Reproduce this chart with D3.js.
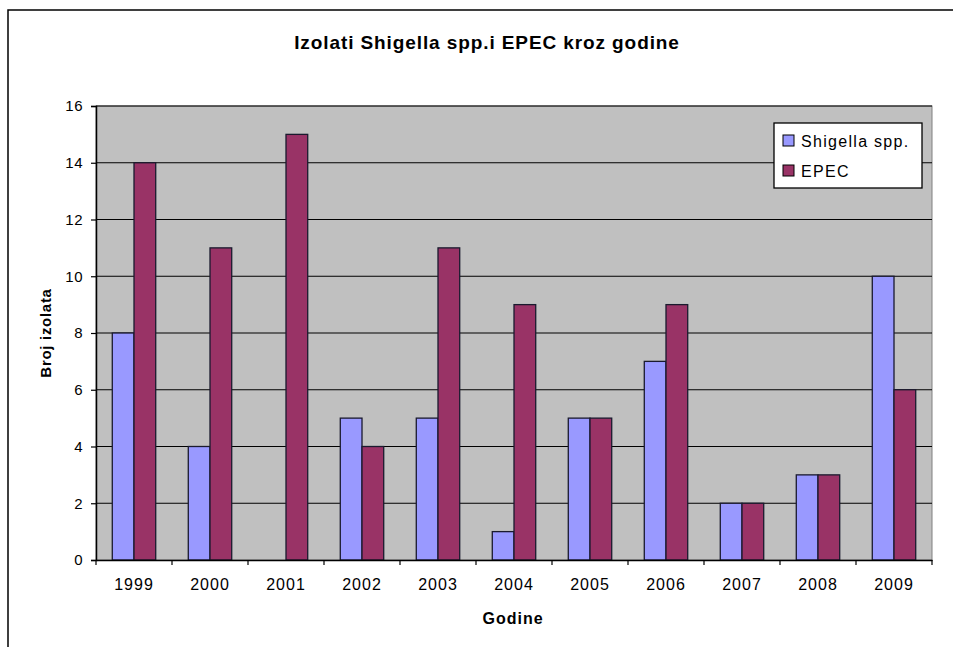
<!DOCTYPE html>
<html>
<head>
<meta charset="utf-8">
<script src="https://cdn.jsdelivr.net/npm/d3@7.9.0/dist/d3.min.js"></script>
<style>
  body { margin: 0; background: #fff; }
  svg { display: block; font-family: Arial, "Liberation Sans", sans-serif; }
</style>
</head>
<body>
<svg id="chart" width="953" height="647"></svg>
<script>
const years = ['1999', '2000', '2001', '2002', '2003', '2004', '2005', '2006', '2007', '2008', '2009'];
const shigella = [8, 4, 0, 5, 5, 1, 5, 7, 2, 3, 10];
const epec = [14, 11, 15, 4, 11, 9, 5, 9, 2, 3, 6];
const seriesNames = ['Shigella spp.', 'EPEC'];
const yTicks = [0, 2, 4, 6, 8, 10, 12, 14, 16];

const colors = ['#9999ff', '#993366'];
const svg = d3.select('#chart');

// outer chart border (runs off the right and bottom edge)
svg.append('rect')
    .attr('x', 8).attr('y', 10)
    .attr('width', 980).attr('height', 700)
    .attr('fill', 'none').attr('stroke', '#000').attr('stroke-width', 1.5);

const plot = { left: 96, top: 106, right: 932, bottom: 560 };

const x = d3.scaleBand().domain(years).range([plot.left, plot.right]).paddingInner(0.42857).paddingOuter(0.214285);
const xOuter = d3.scaleBand().domain(years).range([plot.left, plot.right]);
const xSub = d3.scaleBand().domain(seriesNames).range([0, x.bandwidth()]);
const y = d3.scaleLinear().domain([0, 16]).range([plot.bottom, plot.top]);

svg.append('rect')
    .attr('x', plot.left).attr('y', plot.top)
    .attr('width', plot.right - plot.left).attr('height', plot.bottom - plot.top)
    .attr('fill', '#c0c0c0').attr('stroke', '#808080').attr('stroke-width', 1);

// gridlines
svg.append('g').selectAll('line')
    .data(yTicks.filter(d => d > 0))
    .join('line')
    .attr('x1', plot.left).attr('x2', plot.right)
    .attr('y1', d => y(d)).attr('y2', d => y(d))
    .attr('stroke', '#000').attr('stroke-width', 1.2);

// bars
const rows = years.map((yr, i) => ({ year: yr, values: [shigella[i], epec[i]] }));
svg.append('g').selectAll('g')
    .data(rows)
    .join('g')
    .attr('transform', d => `translate(${x(d.year)},0)`)
    .selectAll('rect')
    .data(d => d.values.map((v, j) => ({ name: seriesNames[j], value: v, j })))
    .join('rect')
    .filter(d => d.value > 0)
    .attr('x', d => xSub(d.name))
    .attr('y', d => y(d.value))
    .attr('width', xSub.bandwidth())
    .attr('height', d => y(0) - y(d.value))
    .attr('fill', d => colors[d.j])
    .attr('stroke', '#1a1a2e').attr('stroke-width', 1.3);

// y axis
const yAxis = svg.append('g')
    .attr('transform', `translate(${plot.left},0)`)
    .call(d3.axisLeft(y).tickValues(yTicks).tickSize(5).tickPadding(8));
yAxis.select('.domain').attr('stroke', '#000').attr('stroke-width', 1.5);
yAxis.selectAll('.tick line').attr('stroke', '#000').attr('stroke-width', 1.2);
yAxis.selectAll('text').attr('font-size', 15).attr('letter-spacing', 0.5).attr('fill', '#000').attr('font-family', 'Arial, sans-serif');

// x axis
const xAxis = svg.append('g')
    .attr('transform', `translate(0,${plot.bottom})`)
    .call(d3.axisBottom(xOuter).tickSize(0).tickPadding(19));
xAxis.select('.domain').attr('stroke', '#000').attr('stroke-width', 1.5);
xAxis.selectAll('text').attr('font-size', 16).attr('letter-spacing', 1).attr('fill', '#000').attr('font-family', 'Arial, sans-serif');
xAxis.append('g').selectAll('line')
    .data(years.map(d => xOuter(d)).concat([plot.right]))
    .join('line')
    .attr('x1', d => d).attr('x2', d => d)
    .attr('y1', 0).attr('y2', 5)
    .attr('stroke', '#000').attr('stroke-width', 1.2);

// title
svg.append('text')
    .attr('x', 487).attr('y', 49)
    .attr('text-anchor', 'middle')
    .attr('font-size', 19).attr('font-weight', 'bold').attr('letter-spacing', 0.9)
    .text('Izolati Shigella spp.i EPEC kroz godine');

// axis titles
svg.append('text')
    .attr('transform', 'translate(51,333) rotate(-90)')
    .attr('text-anchor', 'middle')
    .attr('font-size', 15).attr('font-weight', 'bold').attr('letter-spacing', 0.7)
    .text('Broj izolata');

svg.append('text')
    .attr('x', 513).attr('y', 624)
    .attr('text-anchor', 'middle')
    .attr('font-size', 16).attr('font-weight', 'bold').attr('letter-spacing', 1)
    .text('Godine');

// legend
const legend = svg.append('g').attr('transform', 'translate(774,123)');
legend.append('rect')
    .attr('width', 148).attr('height', 65)
    .attr('fill', '#fff').attr('stroke', '#000').attr('stroke-width', 1.3);
const li = legend.selectAll('g.item')
    .data(seriesNames)
    .join('g')
    .attr('class', 'item')
    .attr('transform', (d, i) => `translate(9,${18 + i * 30})`);
li.append('rect')
    .attr('x', 0).attr('y', -6)
    .attr('width', 11).attr('height', 11)
    .attr('fill', (d, i) => colors[i])
    .attr('stroke', '#000').attr('stroke-width', 1);
li.append('text')
    .attr('x', 18).attr('y', 6)
    .attr('font-size', 16).attr('letter-spacing', 1.3)
    .text(d => d);
</script>
</body>
</html>
